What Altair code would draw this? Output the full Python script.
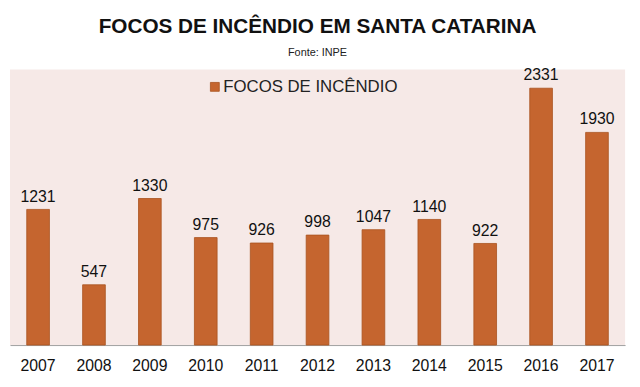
import altair as alt
import pandas as pd

anos = ["2007", "2008", "2009", "2010", "2011", "2012", "2013", "2014", "2015", "2016", "2017"]
focos = [1231, 547, 1330, 975, 926, 998, 1047, 1140, 922, 2331, 1930]
serie = "FOCOS DE INCÊNDIO"
titulo = "FOCOS DE INCÊNDIO EM SANTA CATARINA"
fonte = "Fonte: INPE"

df = pd.DataFrame({"ano": anos, "focos": focos, "serie": [serie] * len(anos)})

FONT = "Liberation Sans"
BAR = "#C5652F"

x = alt.X("ano:N", sort=anos, title=None,
          scale=alt.Scale(paddingInner=0.594, paddingOuter=0.3),
          axis=alt.Axis(labelAngle=0, labelFontSize=16, labelColor="#111111", labelFont=FONT,
                        ticks=False, domainColor="#a0a0a0", domainWidth=1, labelPadding=13))
y = alt.Y("focos:Q", title=None, scale=alt.Scale(domain=[0, 2500]), axis=None)

bars = alt.Chart(df).mark_bar(stroke="#A9521F", strokeWidth=0.8).encode(
    x=x, y=y,
    color=alt.Color("serie:N", scale=alt.Scale(domain=[serie], range=[BAR]),
                    legend=alt.Legend(title=None, orient="none", legendX=199, legendY=9,
                                      symbolType="square", symbolSize=81,
                                      symbolStrokeColor="#A9521F", symbolStrokeWidth=0.8,
                                      labelFontSize=17, labelColor="#222222", labelFont=FONT,
                                      labelOffset=0, labelLimit=0))
)

labels = alt.Chart(df).mark_text(baseline="bottom", dy=-5, fontSize=16, font=FONT, color="#111111").encode(
    x=x, y=y, text="focos:Q"
)

chart = (bars + labels).properties(
    width=623, height=279,
    background="white",
    autosize=alt.AutoSizeParams(type="none"),
    padding={"left": 2, "top": 60, "right": 7, "bottom": 32},
    title=alt.TitleParams(titulo,
                          subtitle=fonte, anchor="middle", font=FONT, fontSize=21,
                          fontWeight="bold", color="#111111", subtitleFont=FONT,
                          subtitleFontSize=11, subtitleColor="#222222", subtitlePadding=10,
                          offset=10),
).configure_view(fill="#F6E9E7", stroke="transparent", strokeWidth=0)

chart.save("out.html", embed_options={"renderer": "svg", "actions": False})
